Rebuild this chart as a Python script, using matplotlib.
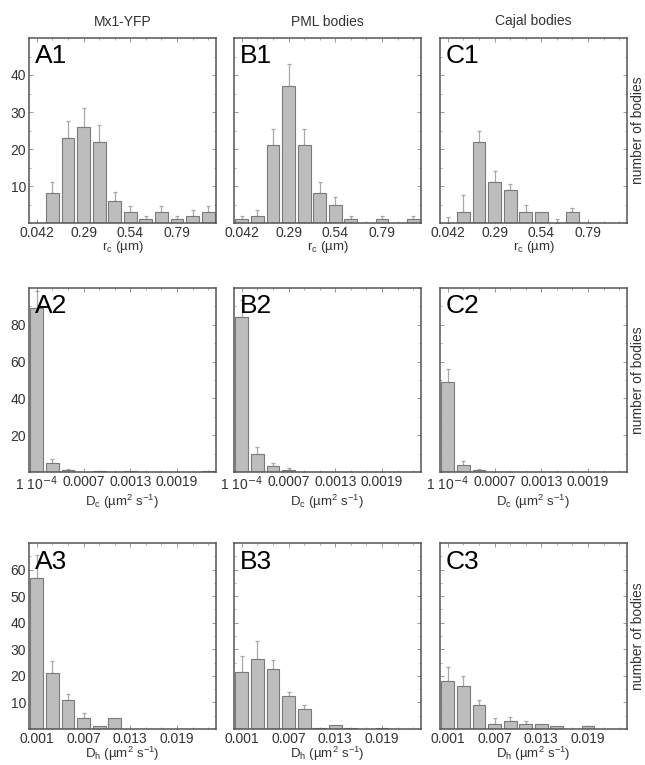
"""
Histograms of body radius and diffusion coefficients (Mx1-YFP, PML bodies, Cajal bodies).
Saves to out.png
"""
import numpy as np
import matplotlib.pyplot as plt
import matplotlib.transforms as mtransforms

plt.rcParams['font.family'] = ['Liberation Sans', 'DejaVu Sans']

COLUMNS = ['Mx1-YFP', 'PML bodies', 'Cajal bodies']
PANEL_TAGS = [['A1', 'B1', 'C1'], ['A2', 'B2', 'C2'], ['A3', 'B3', 'C3']]

# row 1: r_c histogram (12 bins, 0..1 um)
rc_counts = [
    [0, 8, 23, 26, 22, 6, 3, 1, 3, 1, 2, 3],
    [1, 2, 21, 37, 21, 8, 5, 1, 0, 1, 0, 1],
    [0, 3, 22, 11, 9, 3, 3, 0, 3, 0, 0, 0],
]
rc_err = [
    [0, 3, 4.5, 5, 4.5, 2.5, 1.5, 1, 1.5, 1, 1.5, 1.5],
    [1, 1.5, 4.5, 6, 4.5, 3, 2, 0.8, 0, 0.8, 0, 0.8],
    [1.5, 4.7, 3, 3, 1.5, 2, 0, 1, 1, 0, 0, 0],
]
rc_ticks = ['0.042', '0.29', '0.54', '0.79']

# row 2: D_c histogram (12 bins, 0..0.0024 um^2/s)
dc_counts = [
    [89, 5, 1, 0, 0.5, 0, 0.5, 0, 0, 0, 0, 0.5],
    [84, 10, 3, 1, 0, 0, 0, 0, 0, 0, 0, 0],
    [49, 4, 1, 0, 0, 0, 0, 0, 0, 0, 0, 0],
]
dc_err = [
    [9.5, 2, 0.5, 0, 0, 0, 0, 0, 0, 0, 0, 0],
    [9.5, 3.5, 2, 1, 0, 0, 0, 0, 0, 0, 0, 0],
    [7, 2, 0.5, 0, 0, 0, 0, 0, 0, 0, 0, 0],
]
dc_ticks = ['1 10$^{-4}$', '0.0007', '0.0013', '0.0019']

# row 3: D_h histogram (12 bins, 0..0.024 um^2/s)
dh_counts = [
    [57, 21, 11, 4, 1, 4, 0, 0, 0, 0, 0, 0],
    [21.5, 26.5, 22.5, 12.5, 7.5, 0.5, 1.5, 0.5, 0, 0.5, 0, 0],
    [18, 16, 9, 2, 3, 2, 2, 1, 0, 1, 0, 0],
]
dh_err = [
    [8.5, 4.5, 2, 2, 0, 0, 0, 0, 0, 0, 0, 0],
    [6, 6.5, 3.5, 1.5, 1.5, 0, 0, 0, 0, 0, 0, 0],
    [5.5, 4, 2, 2, 1.5, 1, 0, 0, 0, 0, 0, 0],
]
dh_ticks = ['0.001', '0.007', '0.013', '0.019']

ROWS = [
    dict(counts=rc_counts, err=rc_err, ticks=rc_ticks, xmax=1.0, ymax=50,
         yticks=[10, 20, 30, 40], xlabel=r'r$_\mathregular{c}$ (µm)'),
    dict(counts=dc_counts, err=dc_err, ticks=dc_ticks, xmax=0.0024, ymax=100,
         yticks=[20, 40, 60, 80], xlabel=r'D$_\mathregular{c}$ (µm$^\mathregular{2}$ s$^\mathregular{-1}$)'),
    dict(counts=dh_counts, err=dh_err, ticks=dh_ticks, xmax=0.024, ymax=70,
         yticks=[10, 20, 30, 40, 50, 60], xlabel=r'D$_\mathregular{h}$ (µm$^\mathregular{2}$ s$^\mathregular{-1}$)'),
]

W, H = 645, 765
fig = plt.figure(figsize=(W / 100, H / 100), dpi=100)

col_x = [29, 234, 440]
ax_w = 187
row_y = [(38, 223), (288, 472), (543, 729)]

BAR = '#bdbdbd'
EDGE = '#7a7a7a'
ERR = '#a8a8a8'
TXT = '#333333'
FS = 10

for r, row in enumerate(ROWS):
    top, bot = row_y[r]
    nb = len(row['counts'][0])
    w = row['xmax'] / nb
    centers = (np.arange(nb) + 0.5) * w
    for c in range(3):
        ax = fig.add_axes([col_x[c] / W, 1 - bot / H, ax_w / W, (bot - top) / H])
        vals = np.array(row['counts'][c], dtype=float)
        err = np.array(row['err'][c], dtype=float)
        ax.bar(centers, vals, width=w * 0.82, color=BAR, edgecolor=EDGE, linewidth=0.8, zorder=2)
        m = err > 0
        ax.errorbar(centers[m], vals[m], yerr=[np.zeros(m.sum()), err[m]], fmt='none',
                    ecolor=ERR, elinewidth=0.9, capsize=1.5, capthick=0.9, zorder=1)
        ax.set_xlim(0, row['xmax'])
        ax.set_ylim(0, row['ymax'])
        ax.set_xticks(centers[[0, 3, 6, 9]])
        ax.set_xticklabels(row['ticks'], fontsize=FS, color=TXT)
        # first label sits a little right of its tick, as in the original
        first = ax.get_xticklabels()[0]
        first.set_transform(first.get_transform() +
                            mtransforms.ScaledTranslation(4 / 100, 0, fig.dpi_scale_trans))
        ax.set_xticks(centers, minor=True)
        ax.set_yticks(row['yticks'])
        ax.set_yticks(np.arange(0, row['ymax'], row['yticks'][0] / 2), minor=True)
        if c == 0:
            ax.set_yticklabels([str(v) for v in row['yticks']], fontsize=FS, color=TXT)
        else:
            ax.set_yticklabels([])
        ax.tick_params(which='both', direction='in', top=True, right=True, colors='#888888',
                       labelcolor=TXT, pad=2)
        ax.tick_params(which='major', length=3, width=0.6)
        ax.tick_params(which='minor', length=1.5, width=0.5)
        for s in ax.spines.values():
            s.set_color('#555555')
            s.set_linewidth(1.1)
        ax.set_xlabel(row['xlabel'], fontsize=9.5, color=TXT, labelpad=-0.5)
        ax.text(0.03, 0.965, PANEL_TAGS[r][c], transform=ax.transAxes, fontsize=19,
                va='top', ha='left', color='black')
        if r == 0:
            ax.set_title(COLUMNS[c], fontsize=FS, color=TXT, pad=9)
        if c == 2:
            ax.text(1.022, 0.5, 'number of bodies', transform=ax.transAxes, rotation=90,
                    va='center', ha='left', fontsize=FS, color=TXT)

plt.savefig('out.png', dpi=100)
